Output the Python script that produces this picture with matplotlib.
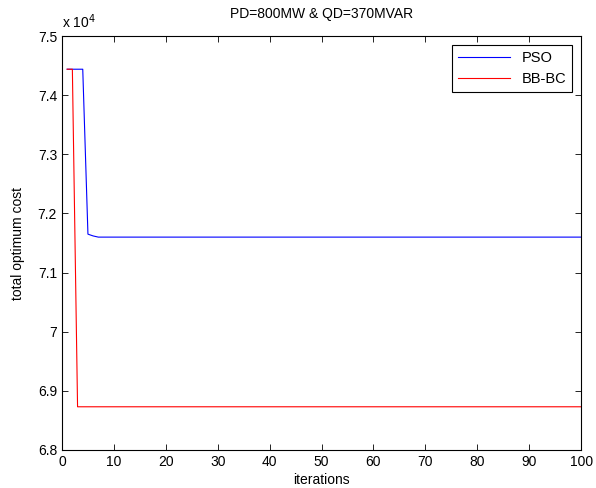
import numpy as np
import matplotlib.pyplot as plt
from matplotlib.ticker import FuncFormatter

plt.rcParams["font.family"] = ["Liberation Sans", "DejaVu Sans"]
plt.rcParams["font.size"] = 10

# total cost per iteration (in units of 1e4)
iterations = np.arange(1, 101)
pso_head = [7.444, 7.444, 7.444, 7.444, 7.165, 7.162, 7.160]
pso_tail = 7.160
bbbc_head = [7.444, 7.444, 6.873]
bbbc_tail = 6.873

pso = np.array(pso_head + [pso_tail] * (len(iterations) - len(pso_head)))
bbbc = np.array(bbbc_head + [bbbc_tail] * (len(iterations) - len(bbbc_head)))

fig = plt.figure(figsize=(5.96, 4.88), dpi=100)
ax = fig.add_axes([0.104, 0.078, 0.871, 0.848])

ax.plot(iterations, pso, color="blue", linewidth=0.8, label="PSO")
ax.plot(iterations, bbbc, color="red", linewidth=0.8, label="BB-BC")

ax.set_xlim(0, 100)
ax.set_ylim(6.8, 7.5)
ax.set_xticks(np.arange(0, 101, 10))
ax.set_yticks(np.arange(6.8, 7.51, 0.1))
ax.yaxis.set_major_formatter(FuncFormatter(lambda v, p: "%g" % round(v, 2)))
ax.tick_params(direction="in", top=True, right=True, length=4, width=0.6)
for s in ax.spines.values():
    s.set_linewidth(0.8)

ax.set_xlabel("iterations", labelpad=3)
ax.set_ylabel("total optimum cost", labelpad=9)
ax.set_title("PD=800MW & QD=370MVAR", fontsize=10, pad=13)
ax.text(0.0, 1.012, "x 10$^4$", transform=ax.transAxes, ha="left", va="bottom")

leg = ax.legend(loc="upper right", fancybox=False, edgecolor="black",
                handlelength=3.6, borderaxespad=0.6, framealpha=1,
                fontsize=10.5)
leg.get_frame().set_linewidth(0.8)

plt.savefig("out.png", dpi=100)
